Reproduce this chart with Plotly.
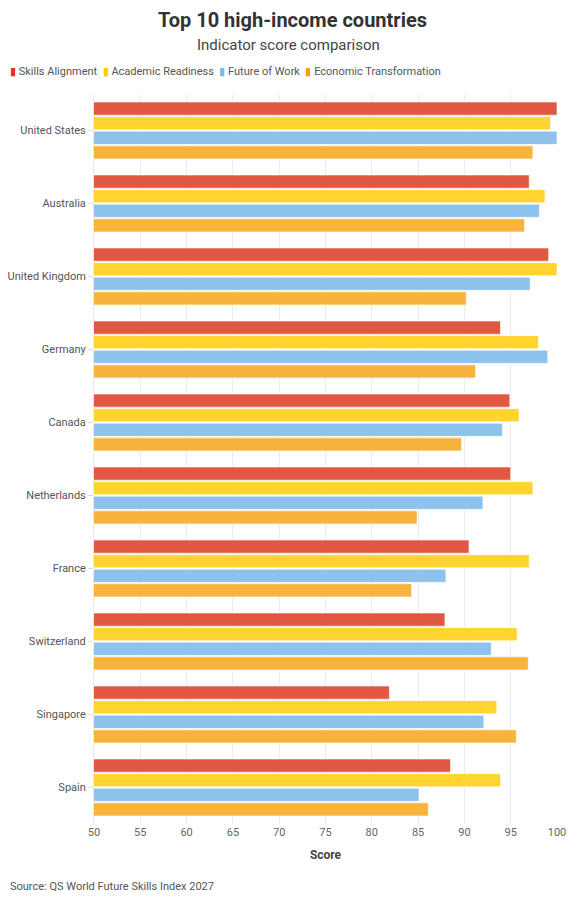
import plotly.graph_objects as go

# Dados
paises = ["United States", "Australia", "United Kingdom", "Germany", "Canada",
          "Netherlands", "France", "Switzerland", "Singapore", "Spain"]

skills_alignment = [100, 97.0, 99.1, 93.9, 94.9, 95.0, 90.5, 87.9, 81.9, 88.5]
academic_readiness = [99.3, 98.7, 100, 98.0, 95.9, 97.4, 97.0, 95.7, 93.5, 93.9]
future_of_work = [100, 98.1, 97.1, 99.0, 94.1, 92.0, 88.0, 92.9, 92.1, 85.1]
economic_transformation = [97.4, 96.5, 90.2, 91.2, 89.7, 84.9, 84.3, 96.9, 95.6, 86.1]

# (nome, valores, cor da barra, cor da legenda)
series = [
    ("Skills Alignment", skills_alignment, "#E05842", "#E0321C"),
    ("Academic Readiness", academic_readiness, "#FFD42E", "#FFCB00"),
    ("Future of Work", future_of_work, "#8CC2EC", "#7AB8E8"),
    ("Economic Transformation", economic_transformation, "#F7B33B", "#F5A20A"),
]

fonte = "Roboto"

fig = go.Figure()
for nome, valores, cor, _ in series:
    fig.add_trace(go.Bar(
        name=nome,
        y=paises,
        x=valores,
        orientation="h",
        marker=dict(color=cor, line=dict(color="rgba(255,255,255,0.6)", width=1)),
        hovertemplate="%{y}: %{x}<extra>" + nome + "</extra>",
    ))

# a página tem 8px de margem no body, por isso a figura é 8px menor
fig.update_layout(
    width=569,
    height=893,
    barmode="group",
    bargap=0.2,
    bargroupgap=0.1,
    plot_bgcolor="white",
    paper_bgcolor="white",
    font=dict(family=fonte, size=11, color="#555555"),
    margin=dict(l=86, r=20, t=86, b=77, autoexpand=False),
    title=dict(
        text="<b>Top 10 high-income countries</b>",
        x=0.5,
        xanchor="center",
        y=1 - 12 / 893,
        yanchor="middle",
        font=dict(family=fonte, size=20, color="#333333"),
    ),
    showlegend=False,
)

# subtítulo (centrado na página, não na área do gráfico)
fig.add_annotation(
    text="Indicator score comparison",
    xref="paper", yref="paper",
    x=0.42, y=1.067,
    xanchor="center", yanchor="middle",
    showarrow=False,
    font=dict(size=15, color="#444444"),
)

# legenda compacta feita como texto
legenda = "&nbsp;&nbsp;".join(
    f"<span style='color:{cor_leg}'>▮</span>&nbsp;{nome}" for nome, _, _, cor_leg in series
)
fig.add_annotation(
    text=legenda,
    xref="paper", yref="paper",
    x=-0.186, y=1.0315,
    xanchor="left", yanchor="middle",
    showarrow=False,
    font=dict(size=11, color="#555555"),
)

fig.update_xaxes(
    range=[50, 100],
    tickvals=list(range(50, 101, 5)),
    showgrid=True,
    gridcolor="#EBEBEB",
    zeroline=False,
    showline=False,
    automargin=False,
    tickfont=dict(size=11, color="#666666"),
    title=dict(text="<b>Score</b>", font=dict(size=12, color="#444444"), standoff=12),
)

fig.update_yaxes(
    autorange="reversed",
    showgrid=False,
    ticks="outside",
    ticklen=5,
    tickcolor="#DDDDDD",
    automargin=False,
    tickfont=dict(size=11, color="#555555"),
    showline=True,
    linecolor="#EBEBEB",
)

fig.add_annotation(
    text="Source: QS World Future Skills Index 2027",
    xref="paper", yref="paper",
    x=-0.186, y=-0.085,
    xanchor="left", yanchor="middle",
    showarrow=False,
    font=dict(size=11, color="#555555"),
)

fig.write_html("out.html")
